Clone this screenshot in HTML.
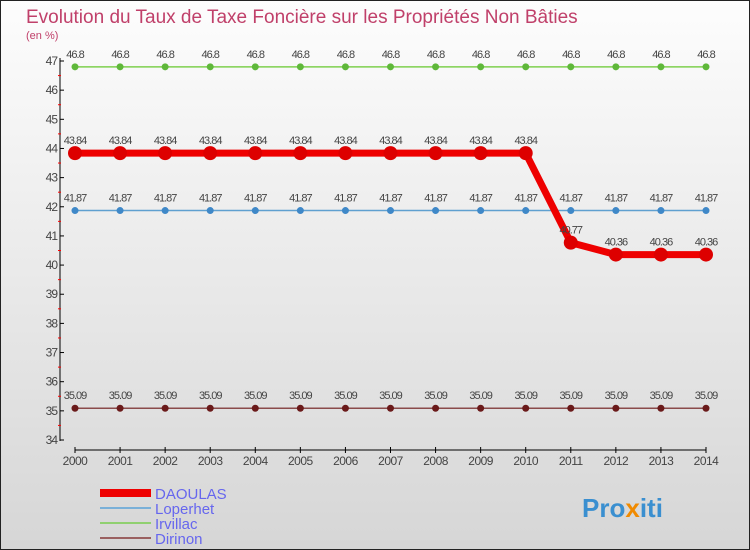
<!DOCTYPE html>
<html><head><meta charset="utf-8"><style>
body{margin:0}
svg{display:block;font-family:"Liberation Sans",sans-serif}
</style></head><body>
<svg id="c" width="750" height="550">
<defs><linearGradient id="bg" x1="0" y1="0" x2="0" y2="1"><stop offset="0" stop-color="#fdfdfd"/><stop offset="1" stop-color="#d6d6d6"/></linearGradient></defs>
<rect x="0.5" y="0.5" width="749" height="549" fill="url(#bg)" stroke="#222"/>
<text x="26" y="23" font-size="19" fill="#c0406a">Evolution du Taux de Taxe Foncière sur les Propriétés Non Bâties</text>
<text x="26" y="39" font-size="11" fill="#c0406a">(en %)</text>
<g id="axes"></g><g id="series"></g><g id="legend"></g>
<text x="582" y="517" font-size="26" font-weight="bold" fill="#3a8fd0">Pro<tspan fill="#f08a00">x</tspan>iti</text>
</svg>
<script>
const years=[2000,2001,2002,2003,2004,2005,2006,2007,2008,2009,2010,2011,2012,2013,2014];
const yTicks=[34,35,36,37,38,39,40,41,42,43,44,45,46,47];
const daoulas=[43.84,43.84,43.84,43.84,43.84,43.84,43.84,43.84,43.84,43.84,43.84,40.77,40.36,40.36,40.36];
const loperhet=[41.87,41.87,41.87,41.87,41.87,41.87,41.87,41.87,41.87,41.87,41.87,41.87,41.87,41.87,41.87];
const irvillac=[46.8,46.8,46.8,46.8,46.8,46.8,46.8,46.8,46.8,46.8,46.8,46.8,46.8,46.8,46.8];
const dirinon=[35.09,35.09,35.09,35.09,35.09,35.09,35.09,35.09,35.09,35.09,35.09,35.09,35.09,35.09,35.09];
const NS="http://www.w3.org/2000/svg";
const X=i=>75+i*(706-75)/(years.length-1);
const Y=v=>440-(v-34)*(440-61)/13;
function mk(t,a,p){const e=document.createElementNS(NS,t);for(const k in a)e.setAttribute(k,a[k]);p.appendChild(e);return e;}
const ax=document.getElementById('axes');
let l=mk('line',{x1:60,y1:58,x2:60,y2:441,stroke:'#000'},ax);


l=mk('line',{x1:75,y1:450,x2:706,y2:450,stroke:'#000'},ax);


yTicks.forEach(v=>{const y=Y(v);
 mk('line',{x1:60,y1:y,x2:64,y2:y,stroke:'#000'},ax);
 if(v<47)mk('line',{x1:58,y1:Y(v+0.5),x2:61,y2:Y(v+0.5),stroke:'#f00'},ax);
 const t=mk('text',{x:57,y:y+4,'font-size':12,fill:'#444','text-anchor':'end','letter-spacing':'-1'},ax);t.textContent=v;
 
 });
years.forEach((yr,i)=>{const x=X(i);
 mk('line',{x1:x,y1:447,x2:x,y2:453,stroke:'#000'},ax);
 const t=mk('text',{x:x,y:465,'font-size':12,fill:'#444','text-anchor':'middle','letter-spacing':'-0.5'},ax);t.textContent=yr;
 
 });
const sg=document.getElementById('series');
const S=[[irvillac,'#7ed04e','#5fb83a',1.5,3.5,'irvillac'],[loperhet,'#5fa0d0','#3f88c8',1.5,3.5,'loperhet'],[dirinon,'#8a4a4a','#6a1a1a',1.5,3.5,'dirinon'],[daoulas,'#ee0000','#dd0000',7,7,'daoulas']];
S.forEach(([d,c,mc,w,r,n])=>{
 const p=mk('polyline',{points:d.map((v,i)=>X(i)+','+Y(v)).join(' '),fill:'none',stroke:c,'stroke-width':w},sg);
 
 
 d.forEach((v,i)=>{const ci=mk('circle',{cx:X(i),cy:Y(v),r:r,fill:mc},sg);
  
  
  const t=mk('text',{x:X(i),y:Y(v)-9,'font-size':11,fill:'#444','text-anchor':'middle','letter-spacing':'-1'},sg);t.textContent=v;
  
  });
});
const lg=document.getElementById('legend');
[['DAOULAS','#ee0000',8,493],['Loperhet','#7ab0d8',2,508],['Irvillac','#90d070',2,523],['Dirinon','#9a6060',2,538]].forEach(([n,c,w,y])=>{
 const g=mk('g',{},lg);
 
 
 mk('line',{x1:100,y1:y,x2:151,y2:y,stroke:c,'stroke-width':w},g);
 const t=mk('text',{x:155,y:y+6,'font-size':15,fill:'#6666ee'},g);t.textContent=n;});
</script>
</body></html>
